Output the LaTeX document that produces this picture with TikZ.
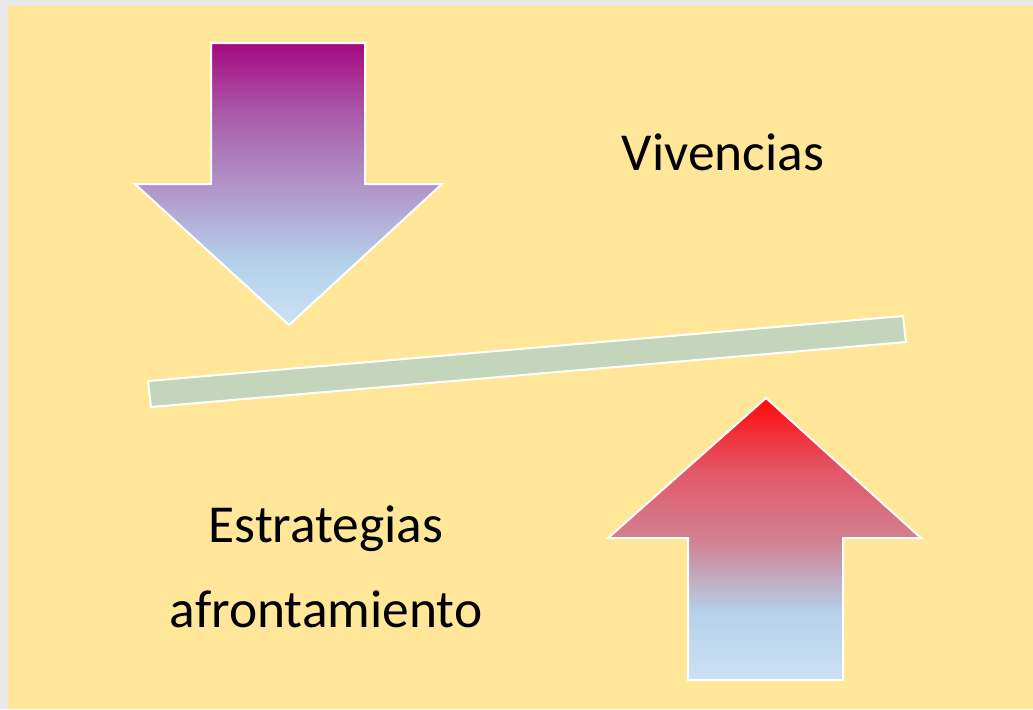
\documentclass[tikz,border=0pt]{standalone}
\usepackage{fontspec}
\setmainfont{Carlito}
\usetikzlibrary{positioning}

\definecolor{paper}{HTML}{FFE699}
\definecolor{edge}{HTML}{E9E9E9}
\definecolor{beam}{HTML}{C3D6BB}
\definecolor{paleblue}{HTML}{CCE0F4}
\definecolor{skyblue}{HTML}{B4D2EA}
\definecolor{lilac}{HTML}{B292C8}
\definecolor{orchid}{HTML}{AA58A8}
\definecolor{plum}{HTML}{A5087F}
\definecolor{rosy}{HTML}{D28090}
\definecolor{coral}{HTML}{E25868}
\definecolor{hotred}{HTML}{FF0A0A}

% vertical shadings, path box maps to 25bp..75bp
\pgfdeclareverticalshading{vivshade}{100bp}{%
  color(0bp)=(paleblue); color(25bp)=(paleblue);
  color(36bp)=(skyblue); color(50bp)=(lilac);
  color(63bp)=(orchid); color(75bp)=(plum);
  color(100bp)=(plum)}
\pgfdeclareverticalshading{estshade}{100bp}{%
  color(0bp)=(paleblue); color(25bp)=(paleblue);
  color(37bp)=(skyblue); color(50bp)=(rosy);
  color(62bp)=(coral); color(75bp)=(hotred);
  color(100bp)=(hotred)}

\begin{document}
\begin{tikzpicture}[x=0.5pt,y=-0.5pt,
    bigarrow/.style={draw=white,line width=1pt,line join=miter},
    word/.style={font=\fontsize{26.7}{42.5}\selectfont,align=center,inner sep=0pt}]
	\useasboundingbox (0,0) rectangle (1033,709);
	\fill[edge] (0,0) rectangle (1033,709);
	\fill[paper] (8,6) rectangle (1033,709);
	% falling arrow
	\path[bigarrow,shading=vivshade]
		(211,43) -- (365,43) -- (365,184) -- (442,184) -- (289,325)
		-- (135,184) -- (211,184) -- cycle;
	% rising arrow
	\path[bigarrow,shading=estshade]
		(766,398) -- (921,538) -- (843,538) -- (843,680) -- (688,680)
		-- (688,538) -- (608,538) -- cycle;
	% balance beam
	\filldraw[beam,draw=white,line width=1pt]
		(148,381) -- (903,316) -- (906,342) -- (151,407) -- cycle;
	\node[word,anchor=base] (viv) at (723,170) {Vivencias};
	\node[word,anchor=base] (est) at (326,627) {Estrategias\\afrontamiento};
\end{tikzpicture}
\end{document}
